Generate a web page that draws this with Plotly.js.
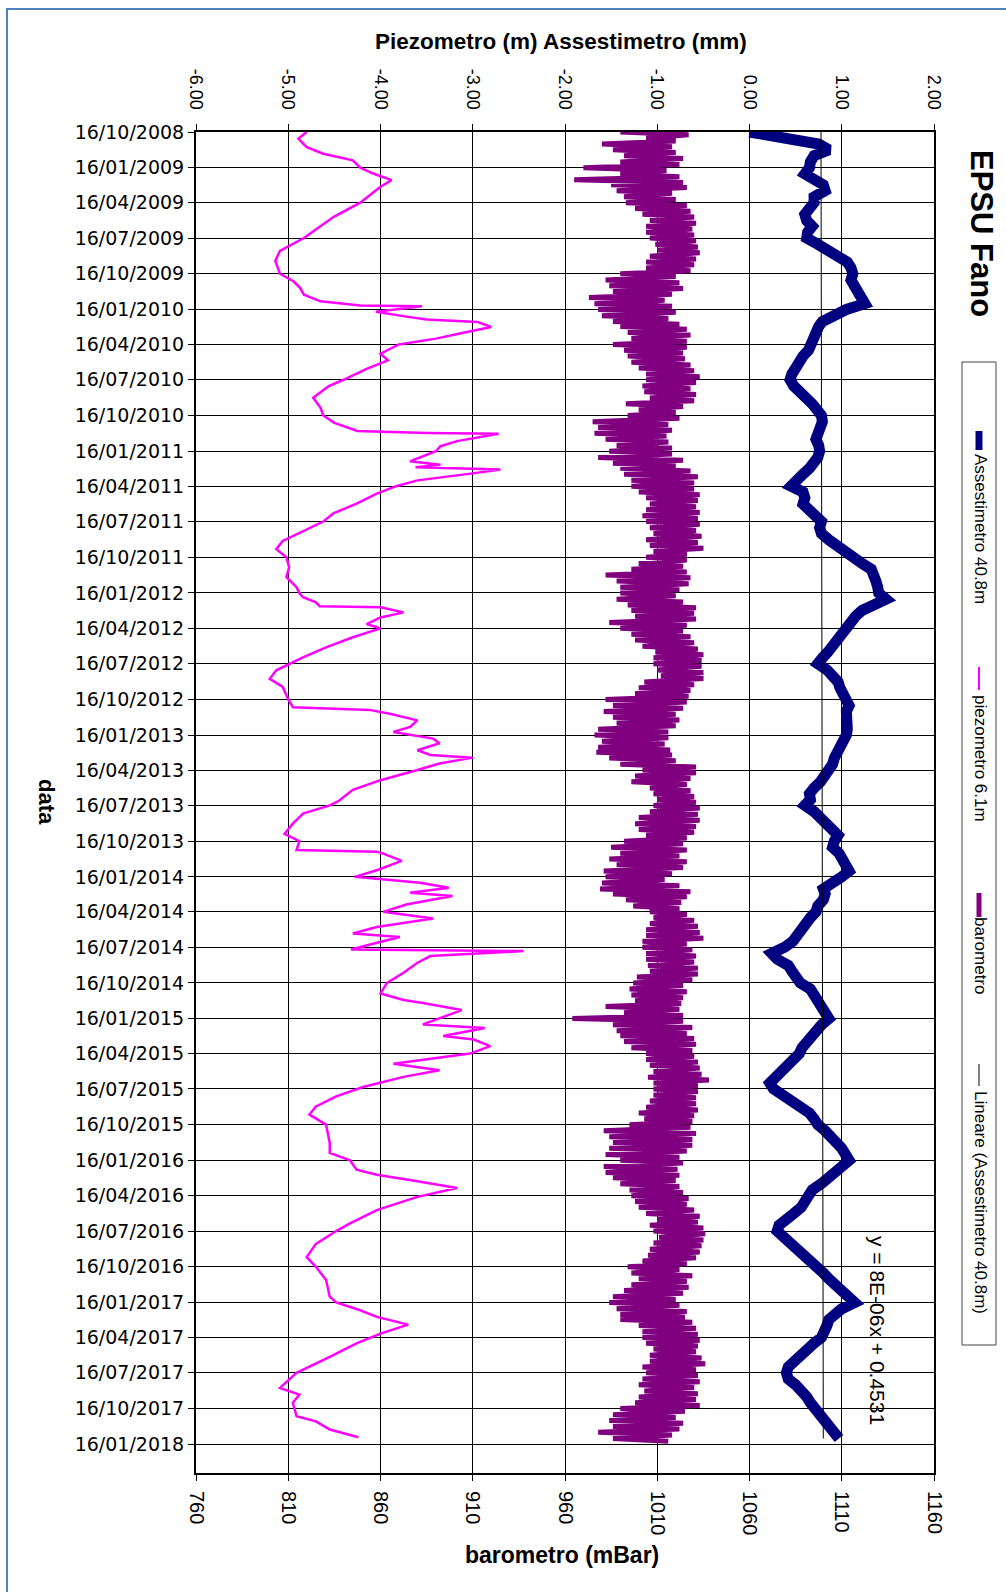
<!DOCTYPE html>
<html><head><meta charset="utf-8">
<script src="https://cdn.plot.ly/plotly-3.0.1.min.js"></script>
<style>html,body{margin:0;padding:0;background:#fff;}#chart{width:1006px;height:1592px;}</style>
</head><body><div id="chart"></div>
<script>
// ---------- tick labels ----------
const dateTickLabels = ['16/10/2008','16/01/2009','16/04/2009','16/07/2009','16/10/2009','16/01/2010','16/04/2010','16/07/2010','16/10/2010','16/01/2011','16/04/2011','16/07/2011','16/10/2011','16/01/2012','16/04/2012','16/07/2012','16/10/2012','16/01/2013','16/04/2013','16/07/2013','16/10/2013','16/01/2014','16/04/2014','16/07/2014','16/10/2014','16/01/2015','16/04/2015','16/07/2015','16/10/2015','16/01/2016','16/04/2016','16/07/2016','16/10/2016','16/01/2017','16/04/2017','16/07/2017','16/10/2017','16/01/2018'];
const topTickVals = [-6,-5,-4,-3,-2,-1,0,1,2];
const topTickText = ['-6.00','-5.00','-4.00','-3.00','-2.00','-1.00','0.00','1.00','2.00'];
const baroTickVals = [760,810,860,910,960,1010,1060,1110,1160];
const baroTickText = ['760','810','860','910','960','1010','1060','1110','1160'];

// ---------- piezometro 6.1m (m) : date / value ----------
const piezoDates = ['2008-10-16','2008-11-02','2008-11-24','2008-12-11','2008-12-28','2009-01-16','2009-01-31','2009-02-17','2009-03-06','2009-04-16','2009-05-23','2009-07-16','2009-08-18','2009-09-13','2009-10-16','2009-11-05','2009-11-22','2009-12-09','2009-12-26','2010-01-06','2010-01-08','2010-01-22','2010-02-04','2010-02-11','2010-02-17','2010-03-02','2010-03-19','2010-04-01','2010-04-16','2010-05-10','2010-05-27','2010-06-18','2010-07-16','2010-08-01','2010-08-31','2010-09-26','2010-10-16','2010-11-04','2010-11-25','2010-11-30','2010-12-02','2010-12-21','2011-01-03','2011-01-16','2011-02-11','2011-02-20','2011-02-26','2011-03-04','2011-03-14','2011-04-01','2011-04-16','2011-05-05','2011-05-31','2011-06-25','2011-07-16','2011-08-09','2011-09-04','2011-09-25','2011-10-16','2011-11-11','2011-12-06','2012-01-01','2012-01-16','2012-01-27','2012-02-09','2012-02-19','2012-02-22','2012-03-06','2012-03-19','2012-04-05','2012-04-16','2012-05-09','2012-06-04','2012-06-30','2012-07-16','2012-08-02','2012-08-24','2012-09-14','2012-10-16','2012-11-05','2012-11-12','2012-11-22','2012-12-09','2012-12-26','2013-01-08','2013-01-25','2013-02-06','2013-02-24','2013-03-08','2013-03-15','2013-03-30','2013-04-16','2013-05-12','2013-06-06','2013-07-04','2013-07-16','2013-08-06','2013-09-01','2013-09-27','2013-10-16','2013-11-08','2013-11-12','2013-11-17','2013-12-06','2013-12-30','2014-01-16','2014-01-31','2014-02-13','2014-02-26','2014-03-06','2014-03-28','2014-04-16','2014-05-03','2014-05-25','2014-06-11','2014-06-20','2014-07-07','2014-07-22','2014-07-26','2014-08-08','2014-08-25','2014-09-20','2014-10-16','2014-11-12','2014-11-29','2014-12-07','2014-12-25','2015-01-11','2015-01-31','2015-02-09','2015-03-02','2015-03-11','2015-03-28','2015-04-16','2015-05-12','2015-05-29','2015-06-15','2015-07-11','2015-08-04','2015-08-30','2015-09-20','2015-10-16','2015-12-02','2015-12-28','2016-01-16','2016-02-09','2016-02-22','2016-03-10','2016-03-27','2016-04-19','2016-05-23','2016-06-26','2016-07-16','2016-08-18','2016-09-21','2016-10-16','2016-11-19','2017-01-01','2017-01-16','2017-02-05','2017-02-22','2017-03-14','2017-04-06','2017-05-01','2017-06-05','2017-07-16','2017-08-24','2017-09-10','2017-10-01','2017-11-05','2017-11-18','2017-12-09','2017-12-29'];
const piezoVals = [-4.80,-4.89,-4.80,-4.62,-4.30,-4.22,-4.08,-3.88,-4.00,-4.22,-4.51,-4.83,-5.09,-5.14,-5.09,-4.94,-4.87,-4.83,-4.65,-4.22,-3.55,-4.05,-3.70,-3.50,-2.95,-2.80,-3.14,-3.40,-3.80,-4.00,-3.92,-4.15,-4.40,-4.56,-4.73,-4.65,-4.62,-4.50,-4.25,-3.50,-2.72,-3.17,-3.35,-3.40,-3.68,-3.35,-3.62,-2.70,-3.00,-3.60,-3.83,-4.04,-4.26,-4.51,-4.62,-4.84,-5.06,-5.13,-5.02,-4.99,-5.02,-4.91,-4.88,-4.84,-4.70,-4.66,-4.00,-3.75,-4.00,-4.15,-4.00,-4.30,-4.59,-4.84,-4.99,-5.13,-5.20,-5.06,-5.00,-4.95,-4.12,-3.90,-3.60,-3.68,-3.86,-3.43,-3.36,-3.60,-3.46,-3.00,-3.36,-3.60,-4.00,-4.30,-4.45,-4.55,-4.84,-4.95,-5.04,-4.88,-4.91,-4.04,-3.97,-3.77,-4.04,-4.28,-3.57,-3.26,-3.68,-3.22,-3.72,-3.97,-3.43,-4.04,-4.30,-3.79,-4.08,-4.32,-2.45,-3.46,-3.60,-3.75,-3.93,-4.00,-3.75,-3.54,-3.12,-3.32,-3.54,-2.87,-3.32,-2.99,-2.81,-3.03,-3.86,-3.36,-3.75,-4.19,-4.48,-4.70,-4.77,-4.59,-4.55,-4.55,-4.33,-4.26,-4.04,-3.60,-3.17,-3.60,-4.04,-4.33,-4.48,-4.70,-4.80,-4.70,-4.59,-4.55,-4.48,-4.22,-4.04,-3.70,-4.00,-4.26,-4.55,-4.91,-5.09,-4.88,-4.95,-4.91,-4.70,-4.55,-4.24];

// ---------- Assestimetro 40.8m (mm) : half-monthly from 16/10/2008, one row per quarter ----------
const assestQ = [
[0.00,0.50,0.75,0.86,0.70,0.66],[0.65,0.60,0.74,0.80,0.82,0.70],[0.70,0.66,0.60,0.62,0.68,0.63],[0.62,0.74,0.84,0.92,1.06,1.10],
[1.12,1.10,1.14,1.16,1.20,1.25],[1.05,0.90,0.79,0.75,0.72,0.70],[0.69,0.64,0.58,0.55,0.50,0.46],[0.44,0.48,0.56,0.61,0.68,0.73],
[0.78,0.79,0.76,0.74,0.72,0.75],[0.76,0.74,0.70,0.65,0.58,0.52],[0.45,0.58,0.60,0.58,0.64,0.72],[0.78,0.76,0.78,0.86,0.94,1.01],
[1.12,1.22,1.32,1.36,1.37,1.39],[1.40,1.48,1.30,1.22,1.15,1.10],[1.07,1.00,0.96,0.90,0.85,0.79],[0.74,0.84,0.90,0.96,0.98,1.01],
[1.04,1.08,1.05,1.06,1.04,1.06],[1.05,1.01,0.98,0.94,0.92,0.90],[0.86,0.82,0.77,0.70,0.65,0.66],[0.60,0.70,0.76,0.83,0.90,0.96],
[0.92,0.90,0.97,1.00,1.05,1.08],[1.00,0.90,0.80,0.82,0.80,0.74],[0.72,0.66,0.61,0.57,0.53,0.47],[0.38,0.24,0.30,0.42,0.46,0.50],
[0.55,0.66,0.70,0.72,0.77,0.80],[0.86,0.78,0.72,0.66,0.60,0.57],[0.54,0.48,0.43,0.38,0.30,0.22],[0.26,0.36,0.48,0.58,0.65,0.70],
[0.74,0.82,0.90,0.94,1.00,1.03],[1.08,1.00,0.93,0.87,0.78,0.68],[0.64,0.60,0.56,0.48,0.40,0.32],[0.30,0.38,0.45,0.52,0.58,0.65],
[0.74,0.80,0.86,0.92,0.98,1.07],[1.14,1.00,0.92,0.86,0.84,0.82],[0.78,0.70,0.62,0.54,0.46,0.42],[0.40,0.42,0.50,0.58,0.62,0.66],
[0.71,0.76,0.82,0.88,0.94,0.97]];

// ---------- barometro (mBar) : half-monthly low / high, one row per quarter ----------
const baroLowQ = [
[990,1004,980,986,992,990],[970,990,965,985,988,992],[993,998,1002,1006,1004,1004],[1006,1009,1010,1006,1004,1004],
[990,982,984,986,973,976],[978,980,986,990,994,996],[986,992,994,996,1000,1004],[1004,1002,1003,1006,993,1000],
[994,975,978,976,982,988],[984,978,986,990,992,996],[996,1000,1004,1006,1004,1002],[1004,1006,1008,1004,1006,1008],
[1004,1000,996,982,988,990],[990,988,994,996,998,984],[990,996,998,1002,1009,1008],[1008,1010,1012,1003,1000,998],
[982,986,981,986,988,978],[976,980,978,977,984,990],[1002,998,996,1006,1008,1010],[1008,1006,1000,998,1000,1004],
[992,985,990,984,988,981],[982,980,979,986,993,997],[1006,1008,1006,1004,1004,1002],[1002,1004,1004,1005,1006,999],
[997,995,996,998,982,992],[964,986,988,990,992,996],[1004,1004,1006,1008,1005,1008],[1008,1008,1006,1004,1000,1003],
[995,981,984,986,984,982],[990,981,982,986,990,995],[996,998,1000,1004,1010,1006],[1008,1011,1008,1006,1005,1002],
[994,996,1000,996,992,986],[984,988,990,990,1000,1002],[1002,1004,1008,1006,1006,1002],[1004,1002,1000,1003,1000,998],
[990,986,984,986,978,986]];
const baroHighQ = [
[1027,1020,1018,1020,1024,1022],[1015,1022,1024,1026,1018,1020],[1026,1028,1030,1031,1029,1030],[1031,1032,1033,1031,1030,1028],
[1020,1022,1024,1018,1014,1018],[1020,1016,1022,1026,1028,1026],[1026,1024,1025,1028,1030,1033],[1031,1028,1031,1030,1024,1020],
[1022,1016,1018,1015,1016,1018],[1018,1024,1020,1028,1032,1030],[1030,1033,1032,1031,1033,1032],[1033,1031,1034,1032,1035,1026],
[1026,1024,1026,1028,1027,1022],[1020,1024,1031,1030,1031,1026],[1024,1028,1030,1032,1035,1034],[1034,1035,1035,1030,1028,1027],
[1026,1024,1020,1022,1020,1016],[1016,1014,1017,1018,1020,1031],[1031,1028,1026,1028,1030,1031],[1033,1032,1033,1031,1030,1026],
[1024,1026,1022,1026,1024,1018],[1014,1022,1028,1026,1023,1022],[1026,1030,1032,1033,1035,1026],[1029,1031,1030,1032,1032,1029],
[1024,1026,1024,1023,1022,1024],[1024,1029,1026,1030,1031,1029],[1030,1032,1033,1034,1038,1032],[1032,1031,1031,1032,1030,1029],
[1028,1031,1029,1029,1026,1022],[1024,1021,1022,1020,1022,1024],[1027,1026,1030,1033,1032,1035],[1036,1035,1034,1033,1031,1026],
[1022,1029,1026,1027,1024,1020],[1022,1026,1025,1029,1031,1032],[1033,1032,1031,1034,1036,1031],[1032,1033,1030,1032,1031,1033],
[1025,1020,1024,1022,1018,1016]];

// ---------- linear trend (Assestimetro 40.8m) ----------
const trendDates = ['2008-10-16','2018-01-01'];
const trendVals = [0.775, 0.800];

// ---------- helpers ----------
function halfMonthDate(k){
  const d = new Date(Date.UTC(2008, 9 + Math.ceil(k/2), k % 2 === 0 ? 16 : 1));
  return d.toISOString().slice(0,10);
}
function addDays(s, n){
  const d = new Date(s + 'T00:00:00Z'); d.setUTCDate(d.getUTCDate() + n);
  return d.toISOString().slice(0,10);
}
function toIso(lbl){ const p = lbl.split('/'); return p[2] + '-' + p[1] + '-' + p[0]; }

const assestVals = assestQ.flat();
const assestDates = assestVals.map((v,k) => halfMonthDate(k));
const baroLow = baroLowQ.flat(), baroHigh = baroHighQ.flat();
const baroX = [], baroY = [];
baroLow.forEach((lo,k) => {
  const d = halfMonthDate(k);
  baroX.push(lo); baroY.push(d);
  baroX.push(baroHigh[k]); baroY.push(addDays(d, 7));
});

// plot area in page pixels
const L = 196, R = 934, T = 132, B = 1473;
const px = x => (x - L) / (R - L);
const py = y => (B - y) / (B - T);

const FONT = 'Liberation Sans, Arial, sans-serif';

const traces = [
  {x: baroX, y: baroY, xaxis: 'x2', yaxis: 'y', mode: 'lines', name: 'barometro',
   line: {color: '#800080', width: 5}, hoverinfo: 'skip'},
  {x: piezoVals, y: piezoDates, mode: 'lines', name: 'piezometro 6.1m',
   line: {color: '#ff00ff', width: 2.5}, hoverinfo: 'skip'},
  {x: assestVals, y: assestDates, mode: 'lines', name: 'Assestimetro 40.8m',
   line: {color: '#000080', width: 11}, hoverinfo: 'skip'},
  {x: trendVals, y: trendDates, mode: 'lines', name: 'Lineare (Assestimetro 40.8m)',
   line: {color: '#000000', width: 1}, hoverinfo: 'skip'}
];

function ann(text, x, y, size, extra){
  return Object.assign({text: text, x: px(x), y: py(y), xref: 'paper', yref: 'paper',
    showarrow: false, xanchor: 'center', yanchor: 'middle',
    font: {family: FONT, size: size, color: '#000'}}, extra || {});
}
const bold = s => ({family: FONT, size: s, color: '#000', weight: 'bold'});

const annotations = [
  ann('Piezometro (m) Assestimetro (mm)', 561, 41, 22, {font: bold(22.5)}),
  ann('barometro (mBar)', 562, 1555, 23, {font: bold(23)}),
  ann('data', 46, 802, 22, {textangle: 90, font: bold(22)}),
  ann('EPSU Fano', 981, 233, 31, {textangle: 90, font: bold(31)}),
  ann('Assestimetro 40.8m', 981, 529, 17, {textangle: 90}),
  ann('piezometro 6.1m', 981, 758, 17, {textangle: 90}),
  ann('barometro', 981, 955, 17, {textangle: 90}),
  ann('Lineare (Assestimetro 40.8m)', 981, 1202, 17, {textangle: 90}),
  ann('y = 8E-06x + 0.4531', 878, 1330, 21, {textangle: 90})
];

const shapes = [
  {type: 'rect', xref: 'paper', yref: 'paper', x0: px(7), x1: px(1020), y0: py(1620), y1: py(9),
   line: {color: '#4f81bd', width: 2}, fillcolor: 'rgba(0,0,0,0)', layer: 'below'},
  {type: 'rect', xref: 'paper', yref: 'paper', x0: px(962), x1: px(996), y0: py(1345), y1: py(362),
   line: {color: '#444', width: 1}, fillcolor: '#fff'},
  {type: 'line', xref: 'paper', yref: 'paper', x0: px(979), x1: px(979), y0: py(431), y1: py(450),
   line: {color: '#000080', width: 7}},
  {type: 'line', xref: 'paper', yref: 'paper', x0: px(979), x1: px(979), y0: py(667), y1: py(690),
   line: {color: '#ff00ff', width: 2}},
  {type: 'line', xref: 'paper', yref: 'paper', x0: px(979), x1: px(979), y0: py(893), y1: py(917),
   line: {color: '#800080', width: 5}},
  {type: 'line', xref: 'paper', yref: 'paper', x0: px(979), x1: px(979), y0: py(1064), y1: py(1086),
   line: {color: '#000', width: 1}}
];

const layout = {
  width: 1006, height: 1592,
  margin: {l: L, r: 1006 - R, t: T, b: 1592 - B, pad: 0},
  paper_bgcolor: '#ffffff', plot_bgcolor: '#ffffff',
  showlegend: false,
  font: {family: FONT, color: '#000'},
  xaxis: {side: 'top', anchor: 'y', range: [-6, 2], tickmode: 'array', tickvals: topTickVals, ticktext: topTickText,
    tickangle: 90, showgrid: true, gridcolor: '#000', gridwidth: 1, zeroline: false,
    showline: true, linecolor: '#000', linewidth: 2, ticks: 'outside', ticklen: 6, tickcolor: '#000',
    ticklabelstandoff: 8,
    tickfont: {family: FONT, size: 18, color: '#000'}},
  xaxis2: {overlaying: 'x', side: 'bottom', anchor: 'y', range: [760, 1160], tickmode: 'array',
    tickvals: baroTickVals, ticktext: baroTickText, tickangle: 90, showgrid: false, zeroline: false,
    showline: true, linecolor: '#000', linewidth: 2, ticks: 'outside', ticklen: 6, tickcolor: '#000',
    ticklabelstandoff: 6,
    tickfont: {family: FONT, size: 20, color: '#000'}},
  yaxis: {type: 'date', range: ['2018-03-31', '2008-10-16'], tickmode: 'array',
    tickvals: dateTickLabels.map(toIso), ticktext: dateTickLabels,
    showgrid: true, gridcolor: '#000', gridwidth: 1, zeroline: false,
    showline: true, mirror: true, linecolor: '#000', linewidth: 2, ticks: 'outside', ticklen: 6, tickcolor: '#000',
    tickfont: {family: 'DejaVu Sans, sans-serif', size: 19, color: '#000'}},
  annotations: annotations,
  shapes: shapes
};

Plotly.newPlot('chart', traces, layout, {displayModeBar: false, staticPlot: true});
</script></body></html>
